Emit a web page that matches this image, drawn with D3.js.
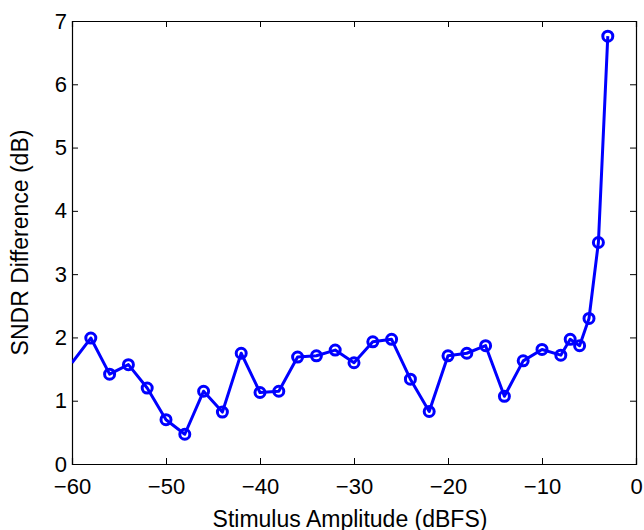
<!DOCTYPE html>
<html>
<head>
<meta charset="utf-8">
<script src="https://cdn.jsdelivr.net/npm/d3@7"></script>
<style>
  body { margin: 0; background: #fff; }
  svg text { font-family: "Liberation Sans", Arial, sans-serif; fill: #000; }
</style>
</head>
<body>
<svg id="chart" width="644" height="530"></svg>
<script>
// stimulus amplitude (dBFS) and SNDR difference (dB)
var amplitude = [-60, -58, -56, -54, -52, -50, -48, -46, -44, -42, -40, -38, -36, -34, -32, -30,
                 -28, -26, -24, -22, -20, -18, -16, -14, -12, -10, -8, -7, -6, -5, -4, -3];
var sndrDiff = [1.60, 1.99, 1.42, 1.57, 1.20, 0.70, 0.47, 1.15, 0.82, 1.75, 1.13, 1.15, 1.69, 1.71, 1.80, 1.60,
                1.93, 1.97, 1.34, 0.83, 1.71, 1.75, 1.87, 1.07, 1.63, 1.81, 1.72, 1.97, 1.87, 2.30, 3.50, 6.76];
var xTicks = [-60, -50, -40, -30, -20, -10, 0];
var yTicks = [0, 1, 2, 3, 4, 5, 6, 7];

var svg = d3.select("#chart"),
    m = { left: 72, right: 636, top: 21, bottom: 464 },
    tickLen = 6;

var x = d3.scaleLinear().domain([-60, 0]).range([m.left, m.right]),
    y = d3.scaleLinear().domain([0, 7]).range([m.bottom, m.top]);

var data = amplitude.map(function (a, i) { return { x: a, y: sndrDiff[i] }; });

svg.append("defs").append("clipPath").attr("id", "plotClip")
    .append("rect")
    .attr("x", m.left).attr("y", m.top)
    .attr("width", m.right - m.left).attr("height", m.bottom - m.top);

// axes: ticks point inward on all four sides
function fmt(d) { return d < 0 ? "\u2212" + Math.abs(d) : String(d); }

svg.append("g")
    .attr("transform", "translate(0," + m.bottom + ")")
    .call(d3.axisBottom(x).tickValues(xTicks).tickSize(-tickLen).tickPadding(14).tickFormat(fmt));
svg.append("g")
    .attr("transform", "translate(0," + m.top + ")")
    .call(d3.axisTop(x).tickValues(xTicks).tickSize(-tickLen).tickFormat(""));
svg.append("g")
    .attr("transform", "translate(" + m.left + ",0)")
    .call(d3.axisLeft(y).tickValues(yTicks).tickSize(-tickLen).tickPadding(5).tickFormat(fmt));
svg.append("g")
    .attr("transform", "translate(" + m.right + ",0)")
    .call(d3.axisRight(y).tickValues(yTicks).tickSize(-tickLen).tickFormat(""));

svg.selectAll(".domain").attr("stroke", "#000").attr("stroke-width", 1.2);
svg.selectAll(".tick line").attr("stroke", "#000").attr("stroke-width", 1);
svg.selectAll(".tick text").style("font-size", "22px").attr("fill", "#000");

// data line and circle markers
var line = d3.line()
    .x(function (d) { return x(d.x); })
    .y(function (d) { return y(d.y); });

var plot = svg.append("g").attr("clip-path", "url(#plotClip)");

plot.append("path")
    .datum(data)
    .attr("d", line)
    .attr("fill", "none")
    .attr("stroke", "#0000ff")
    .attr("stroke-width", 3)
    .attr("stroke-linejoin", "round");

svg.append("g").selectAll("circle")
    .data(data.filter(function (d) { return d.x > -60; }))
    .enter()
    .append("circle")
    .attr("cx", function (d) { return x(d.x); })
    .attr("cy", function (d) { return y(d.y); })
    .attr("r", 5)
    .attr("fill", "none")
    .attr("stroke", "#0000ff")
    .attr("stroke-width", 3);

// axis titles
svg.append("text")
    .attr("x", 350)
    .attr("y", 527)
    .attr("text-anchor", "middle")
    .style("font-size", "23px")
    .text("Stimulus Amplitude (dBFS)");

svg.append("text")
    .attr("transform", "translate(28," + (m.top + m.bottom) / 2 + ") rotate(-90)")
    .attr("text-anchor", "middle")
    .style("font-size", "23px")
    .text("SNDR Difference (dB)");
</script>
</body>
</html>
